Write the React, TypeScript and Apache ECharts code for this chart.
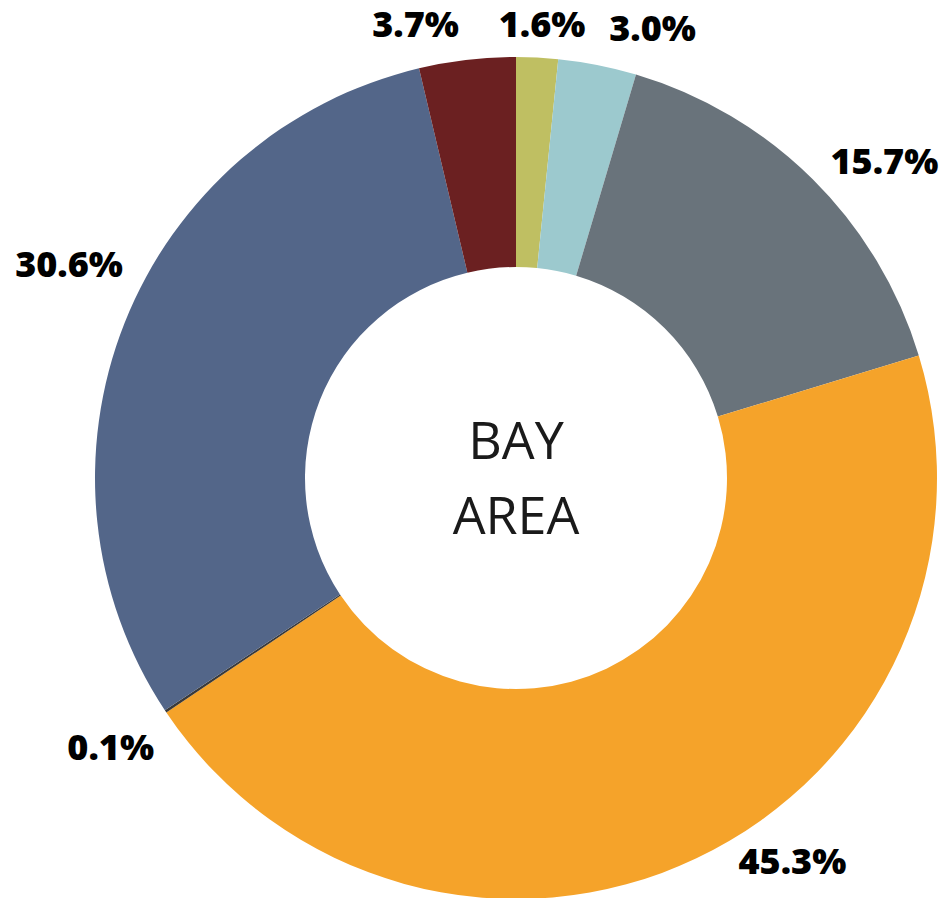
import React, { useEffect, useRef } from "react";
import * as echarts from "echarts";

const categories = ["Seg 1", "Seg 2", "Seg 3", "Seg 4", "Seg 5", "Seg 6", "Seg 7"];
const values = [1.6, 3.0, 15.7, 45.3, 0.1, 30.6, 3.7];
const colors = ["#BFBF62", "#9CC9CE", "#69737B", "#F5A32A", "#3A3A3A", "#536689", "#6B2021"];
const centerLines = ["BAY", "AREA"];
// label nudges (style only)
const labelOffsets: [number, number][] = [
  [2, 23],
  [44, 18],
  [31.5, 21.5],
  [71.5, -49.5],
  [-7.5, 4],
  [-2.5, -39],
  [-45, 20.5],
];

export default function App() {
  const ref = useRef<HTMLDivElement>(null);
  useEffect(() => {
    if (!ref.current) return;
    const chart = echarts.init(ref.current, null, { renderer: "svg" });
    const cx = 516;
    const cy = 478;
    chart.setOption({
      animation: false,
      backgroundColor: "#ffffff",
      graphic: [
        {
          type: "text",
          x: cx,
          y: cy - 2,
          style: {
            text: centerLines.join("\n"),
            fill: "#1a1a1a",
            font: '400 52px "Open Sans"',
            lineHeight: 75,
            align: "center",
            verticalAlign: "middle",
          },
        },
      ],
      series: [
        {
          type: "pie",
          center: [cx, cy],
          radius: [211, 421],
          startAngle: 90,
          clockwise: true,
          avoidLabelOverlap: false,
          silent: true,
          label: { show: false },
          labelLine: { show: false },
          itemStyle: { borderWidth: 0 },
          data: values.map((v, i) => ({
            name: categories[i],
            value: v,
            itemStyle: { color: colors[i] },
          })),
        },
        {
          type: "pie",
          center: [cx, cy],
          radius: [421, 529],
          startAngle: 90,
          clockwise: true,
          avoidLabelOverlap: false,
          silent: true,
          itemStyle: { color: "rgba(0,0,0,0)", borderWidth: 0 },
          labelLine: { show: false },
          label: {
            show: true,
            position: "inside",
            color: "#000000",
            fontFamily: "Open Sans",
            fontWeight: 800,
            fontSize: 36,
            lineHeight: 36,
            formatter: (p: any) => values[p.dataIndex].toFixed(1) + "%",
          },
          data: values.map((v, i) => ({
            name: categories[i],
            value: v,
            label: { offset: labelOffsets[i] },
          })),
        },
      ],
    });
    return () => chart.dispose();
  }, []);
  return (
    <div
      ref={ref}
      style={{ position: "absolute", left: 0, top: 0, width: 949, height: 898 }}
    />
  );
}
